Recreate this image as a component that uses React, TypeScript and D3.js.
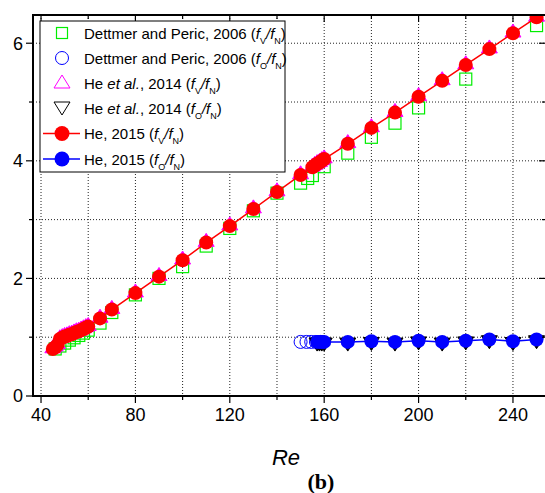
import * as d3 from "d3";

// He, 2015 and He et al., 2014 : fV/fN
const reVN = [45, 46, 47, 48, 49, 50, 51, 52, 53, 54, 55, 56, 57, 58, 59, 60, 65, 70, 80, 90, 100, 110, 120, 130, 140, 150, 155, 156, 157, 158, 159, 160, 170, 180, 190, 200, 210, 220, 230, 240, 250];
const he2015VN = [0.8, 0.83, 0.87, 0.97, 0.99, 1.01, 1.02, 1.04, 1.05, 1.07, 1.09, 1.1, 1.12, 1.14, 1.16, 1.18, 1.32, 1.47, 1.75, 2.03, 2.31, 2.61, 2.89, 3.18, 3.47, 3.76, 3.89, 3.92, 3.95, 3.97, 4.0, 4.03, 4.29, 4.56, 4.82, 5.09, 5.36, 5.63, 5.9, 6.17, 6.44];
const he2014VN = [0.82, 0.85, 0.89, 0.99, 1.01, 1.03, 1.04, 1.06, 1.07, 1.09, 1.11, 1.12, 1.14, 1.16, 1.18, 1.2, 1.34, 1.49, 1.77, 2.05, 2.33, 2.63, 2.91, 3.2, 3.49, 3.78, 3.91, 3.94, 3.97, 3.99, 4.02, 4.05, 4.31, 4.58, 4.84, 5.11, 5.38, 5.65, 5.92, 6.19, 6.46];

// Dettmer and Peric, 2006 : fV/fN
const reDettVN = [46, 48, 50, 52, 54, 56, 58, 60, 65, 70, 80, 90, 100, 110, 120, 130, 140, 150, 153, 155, 160, 170, 180, 190, 200, 220, 250];
const dettVN = [0.8, 0.85, 0.9, 0.95, 0.99, 1.03, 1.07, 1.12, 1.24, 1.42, 1.72, 2.0, 2.2, 2.55, 2.85, 3.15, 3.45, 3.62, 3.7, 3.75, 3.9, 4.13, 4.4, 4.64, 4.9, 5.39, 6.3];

// Dettmer and Peric, 2006 : fO/fN
const reDettON = [150, 152.5, 154.5, 156.5, 158.5];
const dettON = [0.92, 0.92, 0.92, 0.92, 0.92];

// He, 2015 and He et al., 2014 : fO/fN
const reON = [157, 158, 159, 160, 170, 180, 190, 200, 210, 220, 230, 240, 250];
const he2015ON = [0.92, 0.92, 0.92, 0.92, 0.92, 0.93, 0.92, 0.94, 0.92, 0.94, 0.96, 0.93, 0.96];
const he2014ON = [0.9, 0.9, 0.9, 0.9, 0.9, 0.91, 0.9, 0.92, 0.9, 0.92, 0.94, 0.91, 0.94];

const xMajor = [40, 80, 120, 160, 200, 240];
const xAll = [40, 60, 80, 100, 120, 140, 160, 180, 200, 220, 240];
const yMajor = [0, 2, 4, 6];
const yAll = [0, 1, 2, 3, 4, 5, 6];

const W = 545;
const H = 493;
const left = 33;
const right = 546;
const top = 15;
const bottom = 396;

const x = d3.scaleLinear().domain([36.6, 254]).range([left, right]);
const y = d3.scaleLinear().domain([0, 6.48]).range([bottom, top]);

const sans = "'Liberation Sans', Arial, sans-serif";
const GREEN = "#00ee00";
const BLUE = "#0000ff";
const RED = "#ff0000";
const MAGENTA = "#ff00ff";

const upTri = (cx: number, cy: number) => `M${cx},${cy - 8}L${cx + 8},${cy + 5}L${cx - 8},${cy + 5}Z`;
const downTri = (cx: number, cy: number) => `M${cx},${cy + 8}L${cx + 8},${cy - 5}L${cx - 8},${cy - 5}Z`;

function Ratio({ sub }: { sub: string }) {
  return (
    <>
      {"("}
      <tspan fontStyle="italic">f</tspan>
      <tspan fontSize={9} dy={5}>{sub}</tspan>
      <tspan dy={-5} fontStyle="italic">/</tspan>
      <tspan fontStyle="italic">f</tspan>
      <tspan fontSize={9} dy={5}>N</tspan>
      <tspan dy={-5}>)</tspan>
    </>
  );
}

export default function App() {
  const line = d3.line<[number, number]>().x((d) => x(d[0])).y((d) => y(d[1]));
  const redPts: [number, number][] = reVN.map((r, i) => [r, he2015VN[i]]);
  const bluePts: [number, number][] = reON.map((r, i) => [r, he2015ON[i]]);

  const lx = 40;
  const ly = 21;
  const rowY = [33, 58, 83, 108, 133.5, 159];
  const symX = 62;
  const txtX = 84;

  return (
    <svg width={W} height={H} style={{ position: "absolute", left: 0, top: 0, background: "#fff" }} fontFamily={sans}>
      <defs>
        <clipPath id="plot">
          <rect x={left} y={top} width={right - left} height={bottom - top} />
        </clipPath>
      </defs>
      {/* grid */}
      {xAll.map((t) => (
        <line key={"gx" + t} x1={x(t)} x2={x(t)} y1={top} y2={bottom} stroke="#222" strokeDasharray="1,2" />
      ))}
      {yAll.slice(1).map((t) => (
        <line key={"gy" + t} x1={left} x2={right} y1={y(t)} y2={y(t)} stroke="#222" strokeDasharray="1,2" />
      ))}

      <g clipPath="url(#plot)">
        {reDettVN.map((r, i) => (
          <rect key={"gs" + i} x={x(r) - 6} y={y(dettVN[i]) - 6} width={12} height={12} fill="none" stroke={GREEN} strokeWidth={1.2} />
        ))}
        {reDettON.map((r, i) => (
          <circle key={"bo" + i} cx={x(r)} cy={y(dettON[i])} r={6.5} fill="none" stroke={BLUE} strokeWidth={1} />
        ))}
        {reVN.map((r, i) => (
          <path key={"mt" + i} d={upTri(x(r), y(he2014VN[i]))} fill={MAGENTA} stroke={MAGENTA} />
        ))}
        {reON.map((r, i) => (
          <path key={"kt" + i} d={downTri(x(r), y(he2014ON[i]))} fill="#000" stroke="#000" />
        ))}
        <path d={line(redPts) ?? ""} fill="none" stroke={RED} strokeWidth={1.5} />
        {redPts.map((p, i) => (
          <circle key={"rc" + i} cx={x(p[0])} cy={y(p[1])} r={7} fill={RED} />
        ))}
        <path d={line(bluePts) ?? ""} fill="none" stroke={BLUE} strokeWidth={1.5} />
        {bluePts.map((p, i) => (
          <circle key={"bc" + i} cx={x(p[0])} cy={y(p[1])} r={7} fill={BLUE} />
        ))}
      </g>

      {/* frame */}
      <rect x={left} y={top} width={right - left} height={bottom - top} fill="none" stroke="#000" strokeWidth={2} />

      {/* ticks */}
      {xAll.map((t) => {
        const len = xMajor.includes(t) ? 7 : 4;
        return (
          <g key={"tx" + t}>
            <line x1={x(t)} x2={x(t)} y1={bottom} y2={bottom + len} stroke="#000" strokeWidth={1.2} />
            <line x1={x(t)} x2={x(t)} y1={top} y2={top + len} stroke="#000" strokeWidth={1.2} />
          </g>
        );
      })}
      {yAll.map((t) => {
        const len = yMajor.includes(t) ? 7 : 4;
        return (
          <g key={"ty" + t}>
            <line x1={left - len} x2={left} y1={y(t)} y2={y(t)} stroke="#000" strokeWidth={1.2} />
            <line x1={right - len} x2={right} y1={y(t)} y2={y(t)} stroke="#000" strokeWidth={1.2} />
          </g>
        );
      })}
      {xMajor.map((t) => (
        <text key={"lx" + t} x={x(t)} y={421} fontSize={18} textAnchor="middle" fill="#000">
          {t}
        </text>
      ))}
      {yMajor.map((t) => (
        <text key={"ly" + t} x={23} y={y(t)} dy="0.36em" fontSize={18} textAnchor="end" fill="#000">
          {t}
        </text>
      ))}

      {/* legend */}
      <rect x={lx} y={ly} width={245} height={151} fill="#fff" stroke="#000" strokeWidth={1} />
      <rect x={symX - 5.5} y={rowY[0] - 5.5} width={11} height={11} fill="none" stroke={GREEN} strokeWidth={1.2} />
      <circle cx={symX} cy={rowY[1]} r={6.5} fill="none" stroke={BLUE} strokeWidth={1} />
      <path d={`M${symX},${rowY[2] - 8}L${symX + 8},${rowY[2] + 5}L${symX - 8},${rowY[2] + 5}Z`} fill="none" stroke={MAGENTA} strokeWidth={1} />
      <path d={`M${symX},${rowY[3] + 7}L${symX + 8},${rowY[3] - 6}L${symX - 8},${rowY[3] - 6}Z`} fill="none" stroke="#000" strokeWidth={1} />
      <line x1={43} x2={80} y1={rowY[4]} y2={rowY[4]} stroke={RED} strokeWidth={1.5} />
      <circle cx={symX} cy={rowY[4]} r={7.5} fill={RED} />
      <line x1={43} x2={80} y1={rowY[5]} y2={rowY[5]} stroke={BLUE} strokeWidth={1.5} />
      <circle cx={symX} cy={rowY[5]} r={7.5} fill={BLUE} />

      <g fontSize={15} fill="#000">
        <text x={txtX} y={rowY[0] + 5.5}>Dettmer and Peric, 2006 <Ratio sub="V" /></text>
        <text x={txtX} y={rowY[1] + 5.5}>Dettmer and Peric, 2006 <Ratio sub="O" /></text>
        <text x={txtX} y={rowY[2] + 5.5}>He <tspan fontStyle="italic">et al.</tspan>, 2014 <Ratio sub="V" /></text>
        <text x={txtX} y={rowY[3] + 5.5}>He <tspan fontStyle="italic">et al.</tspan>, 2014 <Ratio sub="O" /></text>
        <text x={txtX} y={rowY[4] + 5.5}>He, 2015 <Ratio sub="V" /></text>
        <text x={txtX} y={rowY[5] + 5.5}>He, 2015 <Ratio sub="O" /></text>
      </g>

      {/* axis title and panel label */}
      <text x={286} y={465} fontSize={22} fontStyle="italic" textAnchor="middle" fill="#000">Re</text>
      <text x={321} y={489} fontSize={22} fontWeight="bold" textAnchor="middle" fontFamily="'Liberation Serif', 'Times New Roman', serif" fill="#000">(b)</text>
    </svg>
  );
}
